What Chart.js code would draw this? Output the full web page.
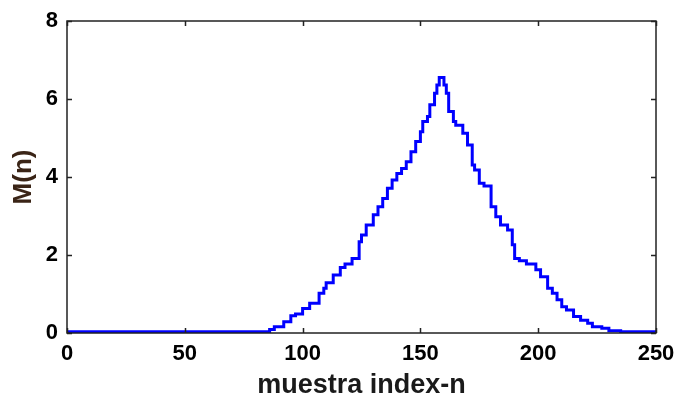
<!DOCTYPE html>
<html>
<head>
<meta charset="utf-8">
<script src="https://cdn.jsdelivr.net/npm/chart.js"></script>
<style>
  html, body { margin: 0; padding: 0; background: #fff; }
  #wrap { width: 678px; height: 402px; }
</style>
</head>
<body>
<div id="wrap"><canvas id="c" width="678" height="402"></canvas></div>
<script>
// sample index n and M(n)
const sampleN = [0, 86, 88, 92, 95, 97, 100, 103, 107, 109, 110, 113, 116, 118, 121, 124, 125, 127, 130, 132,
  134, 136, 138, 140, 142, 144, 146, 148, 150, 151, 153, 154, 156, 157, 158, 160, 161, 162, 164, 165,
  168, 170, 172, 173, 175, 177, 180, 182, 184, 187, 189, 190, 192, 195, 199, 201, 204, 206, 208, 210,
  212, 215, 218, 221, 223, 227, 230, 235, 238, 250];
const valuesM = [0.03, 0.03, 0.09, 0.16, 0.29, 0.44, 0.49, 0.63, 0.76, 1.02, 1.15, 1.29, 1.49, 1.68, 1.77, 1.91, 2.34, 2.51, 2.77, 3.03,
  3.24, 3.45, 3.71, 3.92, 4.09, 4.22, 4.39, 4.65, 4.91, 5.16, 5.42, 5.55, 5.85, 6.15, 6.36, 6.55, 6.36, 6.15, 5.68, 5.42,
  5.33, 5.12, 4.82, 4.31, 4.18, 3.84, 3.77, 3.24, 2.98, 2.77, 2.64, 2.26, 1.91, 1.85, 1.77, 1.62, 1.44, 1.15, 1.02, 0.85,
  0.67, 0.59, 0.42, 0.33, 0.25, 0.16, 0.12, 0.06, 0.03, 0.03];
const xTicks = [0, 50, 100, 150, 200, 250];
const yTicks = [0, 2, 4, 6, 8];

const FONT = '"Liberation Sans", Arial, sans-serif';

// matlab style box with inward ticks on all four sides
const boxPlugin = {
  id: 'box',
  afterDraw(chart) {
    const { ctx, chartArea: a, scales: { x, y } } = chart;
    const len = 5;
    ctx.save();
    ctx.strokeStyle = '#222';
    ctx.lineWidth = 1.5;
    ctx.strokeRect(a.left, a.top, a.right - a.left, a.bottom - a.top);
    ctx.beginPath();
    xTicks.forEach((v) => {
      const px = Math.round(x.getPixelForValue(v)) + 0.5;
      ctx.moveTo(px, a.bottom); ctx.lineTo(px, a.bottom - len);
      ctx.moveTo(px, a.top); ctx.lineTo(px, a.top + len);
    });
    yTicks.forEach((v) => {
      const py = Math.round(y.getPixelForValue(v)) + 0.5;
      ctx.moveTo(a.left, py); ctx.lineTo(a.left + len, py);
      ctx.moveTo(a.right, py); ctx.lineTo(a.right - len, py);
    });
    ctx.stroke();
    ctx.restore();
  },
};

new Chart(document.getElementById('c'), {
  type: 'line',
  data: {
    datasets: [{
      data: sampleN.map((n, i) => ({ x: n, y: valuesM[i] })),
      borderColor: '#0000ff',
      borderWidth: 3,
      pointRadius: 0,
      stepped: 'after',
      fill: false,
    }],
  },
  options: {
    responsive: false,
    animation: false,
    layout: { padding: { top: 21, right: 22, bottom: 0, left: 0 } },
    plugins: { legend: { display: false }, tooltip: { enabled: false } },
    scales: {
      x: {
        type: 'linear',
        min: 0,
        max: 250,
        afterBuildTicks(scale) { scale.ticks = xTicks.map((v) => ({ value: v })); },
        afterFit(scale) {
          scale.height = 69;
          scale.paddingLeft = 0;
          scale.paddingRight = 0;
        },
        grid: { display: false, drawTicks: false },
        border: { display: false },
        ticks: { color: '#000', padding: 8, font: { family: FONT, size: 22, weight: 'bold' } },
        title: {
          display: true,
          text: 'muestra index-n',
          color: '#1a1a1a',
          padding: { top: 0, bottom: 0 },
          font: { family: FONT, size: 27, weight: 'bold' },
        },
      },
      y: {
        min: 0,
        max: 8,
        afterBuildTicks(scale) { scale.ticks = yTicks.map((v) => ({ value: v })); },
        afterFit(scale) {
          scale.width = 67;
          scale.paddingTop = 0;
          scale.paddingBottom = 0;
        },
        grid: { display: false, drawTicks: false },
        border: { display: false },
        ticks: { color: '#000', padding: 9, font: { family: FONT, size: 22, weight: 'bold' } },
        title: {
          display: true,
          text: 'M(n)',
          color: '#3a2416',
          padding: { top: 8, bottom: 0 },
          font: { family: FONT, size: 26, weight: 'bold' },
        },
      },
    },
  },
  plugins: [boxPlugin],
});
</script>
</body>
</html>
